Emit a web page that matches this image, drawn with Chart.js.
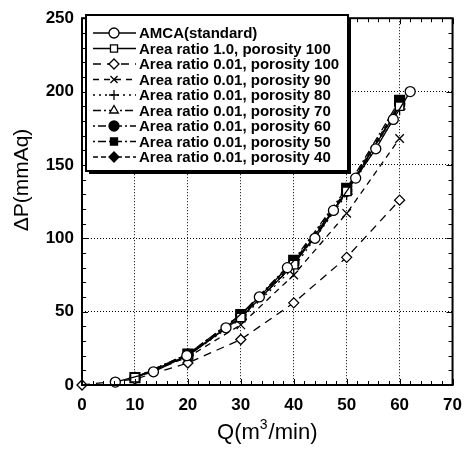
<!DOCTYPE html>
<html>
<head>
<meta charset="utf-8">
<script src="https://cdn.jsdelivr.net/npm/chart.js@4.4.0/dist/chart.umd.min.js"></script>
<style>
  html, body { margin: 0; padding: 0; background: #fff; }
  canvas { display: block; }
</style>
</head>
<body>
<canvas id="chart" width="472" height="453"></canvas>
<script>
// values
const amcaQ = [6.3, 13.5, 19.8, 27.2, 33.5, 38.8, 44.0, 47.5, 51.7, 55.5, 58.8, 62.0];
const amcaP = [2, 9, 20, 39, 60, 80, 100, 119, 141, 161, 181, 200];

const testQ = [10, 20, 30, 40, 50, 60];
const ratio1P = [5, 20, 46, 82, 132, 190];
const p100Q = [0, 10, 20, 30, 40, 50, 60];
const p100P = [0, 4, 15, 31, 56, 87, 126];
const p90P = [5, 19, 41, 75, 117, 168];
const p80P = [5, 20, 45, 80, 130, 188];
const p70P = [5, 20, 46, 82, 131, 190];
const p60P = [5, 21, 47, 83, 132, 191];
const p50P = [5, 21, 48, 85, 134, 194];
const p40P = [5, 21, 48, 84, 133, 192];

const xTicks = [0, 10, 20, 30, 40, 50, 60, 70];
const yTicks = [0, 50, 100, 150, 200, 250];

const seriesNames = [
    'AMCA(standard)',
    'Area ratio 1.0, porosity 100',
    'Area ratio 0.01, porosity 100',
    'Area ratio 0.01, porosity 90',
    'Area ratio 0.01, porosity 80',
    'Area ratio 0.01, porosity 70',
    'Area ratio 0.01, porosity 60',
    'Area ratio 0.01, porosity 50',
    'Area ratio 0.01, porosity 40'
];

function toPoints(qs, ps) {
    return qs.map((q, i) => ({ x: q, y: ps[i] }));
}

function makeSet(i, qs, ps, style, radius, fill, dash) {
    return {
        label: seriesNames[i],
        data: toPoints(qs, ps),
        showLine: true,
        tension: 0,
        clip: false,
        borderColor: '#000',
        borderWidth: 1.3,
        borderDash: dash,
        pointStyle: style,
        pointRadius: radius,
        pointBorderWidth: 1.3,
        pointBorderColor: '#000',
        pointBackgroundColor: fill
    };
}

const datasets = [
    makeSet(0, amcaQ, amcaP, 'circle', 5, '#fff', []),
    makeSet(1, testQ, ratio1P, 'rect', 6, '#fff', []),
    makeSet(2, p100Q, p100P, 'rectRot', 5, '#fff', [8, 6]),
    makeSet(3, testQ, p90P, 'crossRot', 6, '#fff', [6, 5]),
    makeSet(4, testQ, p80P, 'cross', 6, '#fff', [2, 4]),
    makeSet(5, testQ, p70P, 'triangle', 5, '#fff', [8, 3, 2, 3]),
    makeSet(6, testQ, p60P, 'circle', 5, '#000', [2, 3, 8, 3]),
    makeSet(7, testQ, p50P, 'rect', 7, '#000', [2, 3, 8, 3]),
    makeSet(8, testQ, p40P, 'rectRot', 5, '#000', [5, 3])
];

const tickFont = { family: 'Liberation Sans, Arial, sans-serif', size: 17, weight: 'bold' };

// frame, inward ticks, axis titles and the boxed legend
const decorations = {
    id: 'decorations',
    afterDraw(chart) {
        const ctx = chart.ctx;
        const a = chart.chartArea;
        const xs = chart.scales.x;
        const ys = chart.scales.y;
        ctx.save();
        ctx.strokeStyle = '#000';
        ctx.fillStyle = '#000';
        ctx.setLineDash([]);

        ctx.lineWidth = 1;
        ctx.beginPath();
        for (let v = 0; v <= 70; v += 2) {
            const px = Math.round(xs.getPixelForValue(v)) + 0.5;
            const len = v % 10 === 0 ? 6 : 4;
            ctx.moveTo(px, a.bottom); ctx.lineTo(px, a.bottom - len);
            ctx.moveTo(px, a.top); ctx.lineTo(px, a.top + len);
        }
        for (let v = 0; v <= 250; v += 10) {
            const py = Math.round(ys.getPixelForValue(v)) + 0.5;
            const len = v % 50 === 0 ? 6 : 4;
            ctx.moveTo(a.left, py); ctx.lineTo(a.left + len, py);
            ctx.moveTo(a.right, py); ctx.lineTo(a.right - len, py);
        }
        ctx.stroke();

        ctx.lineWidth = 2;
        ctx.strokeRect(a.left, a.top, a.right - a.left, a.bottom - a.top);

        // x title with raised 3
        const big = '22px Liberation Sans, Arial, sans-serif';
        const small = '14px Liberation Sans, Arial, sans-serif';
        ctx.textBaseline = 'alphabetic';
        ctx.textAlign = 'left';
        ctx.font = big;
        const w1 = ctx.measureText('Q(m').width;
        const w3 = ctx.measureText('/min)').width;
        ctx.font = small;
        const w2 = ctx.measureText('3').width + 1;
        let tx = (a.left + a.right) / 2 - (w1 + w2 + w3) / 2;
        const ty = 439;
        ctx.font = big;
        ctx.fillText('Q(m', tx, ty);
        ctx.font = small;
        ctx.fillText('3', tx + w1, ty - 10);
        ctx.font = big;
        ctx.fillText('/min)', tx + w1 + w2, ty);

        // y title
        ctx.save();
        ctx.translate(22, 180);
        ctx.rotate(-Math.PI / 2);
        ctx.textAlign = 'center';
        ctx.textBaseline = 'middle';
        ctx.font = '21px Liberation Sans, Arial, sans-serif';
        ctx.fillText('\u0394P(mmAq)', 0, 0);
        ctx.restore();

        // legend box with shadow
        const bx = 86, by = 15, bw = 262, bh = 156;
        ctx.fillRect(bx + 3, by + 3, bw, bh);
        ctx.fillStyle = '#fff';
        ctx.fillRect(bx, by, bw, bh);
        ctx.lineWidth = 2;
        ctx.strokeRect(bx, by, bw, bh);

        ctx.font = 'bold 15px Liberation Sans, Arial, sans-serif';
        ctx.textAlign = 'left';
        ctx.textBaseline = 'middle';
        chart.data.datasets.forEach(function(ds, i) {
            const ry = 33 + i * 15.5;
            ctx.lineWidth = 1.3;
            ctx.strokeStyle = '#000';
            ctx.setLineDash(ds.borderDash);
            ctx.beginPath();
            ctx.moveTo(93, ry);
            ctx.lineTo(136, ry);
            ctx.stroke();
            ctx.setLineDash([]);
            if (Chart.helpers && Chart.helpers.drawPoint) {
                ctx.fillStyle = ds.pointBackgroundColor;
                Chart.helpers.drawPoint(ctx, {
                    pointStyle: ds.pointStyle,
                    radius: Math.min(ds.pointRadius, 5),
                    rotation: 0,
                    borderWidth: 1.3
                }, 114, ry);
            }
            ctx.fillStyle = '#000';
            ctx.fillText(ds.label, 139, ry + 1);
        });
        ctx.restore();
    }
};

new Chart(document.getElementById('chart').getContext('2d'), {
    type: 'scatter',
    data: { datasets: datasets },
    options: {
        responsive: false,
        animation: false,
        devicePixelRatio: 1,
        layout: { padding: { left: 0, right: 11, top: 17, bottom: 0 } },
        plugins: {
            legend: { display: false },
            tooltip: { enabled: false }
        },
        scales: {
            x: {
                type: 'linear',
                min: 0,
                max: 70,
                afterFit: function(scale) { scale.height = 68; },
                afterBuildTicks: function(scale) { scale.ticks = xTicks.map(v => ({ value: v })); },
                ticks: { color: '#000', font: tickFont, padding: 10, maxRotation: 0 },
                grid: { color: '#000', lineWidth: 1, drawTicks: false },
                border: { display: false, dash: [1, 2] }
            },
            y: {
                type: 'linear',
                min: 0,
                max: 250,
                afterFit: function(scale) { scale.width = 82; },
                afterBuildTicks: function(scale) { scale.ticks = yTicks.map(v => ({ value: v })); },
                ticks: { color: '#000', font: tickFont, padding: 8 },
                grid: { color: '#000', lineWidth: 1, drawTicks: false },
                border: { display: false, dash: [1, 2] }
            }
        }
    },
    plugins: [decorations]
});
</script>
</body>
</html>
